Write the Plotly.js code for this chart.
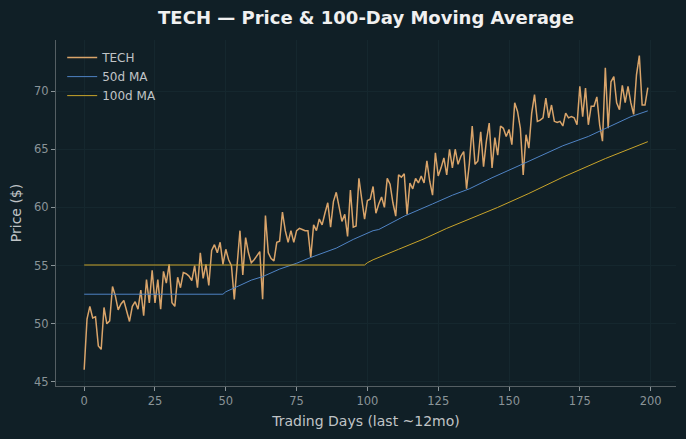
<!DOCTYPE html>
<html>
<head>
<meta charset="utf-8">
<script src="https://cdn.plot.ly/plotly-3.0.1.min.js"></script>
<style>html,body{margin:0;padding:0;background:#101f26;}#chart{width:686px;height:439px;}</style>
</head>
<body>
<div id="chart"></div>
<script>
// TECH daily closing price (day index 0..199)
const techPrice = [
46.05,50.4,51.5,50.5,50.6,48.1,47.8,51.4,50.0,50.25,
53.2,52.4,51.2,51.7,52.0,51.0,50.2,51.5,51.9,51.25,
52.9,50.7,53.8,51.8,54.6,51.8,53.8,51.25,54.5,53.5,
55.1,51.8,51.5,54.0,53.1,54.4,54.3,54.1,53.7,55.0,
53.1,56.1,53.9,55.1,53.3,56.3,56.8,56.1,57.0,55.1,
56.4,55.5,55.0,52.1,55.5,58.0,54.2,57.4,56.1,55.25,
55.5,55.8,56.2,52.1,59.3,56.1,55.6,55.4,57.0,57.1,
59.6,58.0,57.0,58.0,57.0,58.0,58.2,58.1,58.0,58.0,
55.7,58.5,58.0,59.0,58.5,59.5,60.4,58.3,60.5,61.3,
60.1,58.8,59.4,57.5,61.5,58.3,58.4,62.5,60.7,59.0,
60.6,60.7,61.8,59.5,60.3,60.9,60.0,62.5,62.0,60.4,
59.25,62.8,62.6,62.9,59.4,62.1,61.6,62.5,62.1,62.7,
62.1,64.0,62.25,61.05,64.7,62.7,63.4,64.25,62.8,65.0,
63.4,65.0,63.7,64.4,64.8,61.6,63.8,67.0,63.7,64.0,
66.5,63.5,65.7,67.25,63.4,66.0,64.5,67.0,66.8,66.1,
66.7,65.4,69.0,68.25,66.8,62.8,66.25,65.1,68.1,69.7,
67.4,67.5,67.7,69.4,67.7,68.8,67.4,67.3,67.4,67.0,
68.1,67.7,67.8,67.7,67.1,70.4,67.8,70.25,67.1,68.7,
68.7,69.5,67.1,65.7,72.0,66.8,70.8,71.25,69.0,68.4,
70.5,69.0,70.4,69.0,68.0,71.4,73.05,68.8,68.8,70.3
];

// 50-day moving average at sample days
const ma50Days = [0,49,50,51,55,59,63,69,75,80,89,95,102,104,113,123,130,136,144,155,162,169,178,184,193,199];
const ma50Vals = [52.54,52.54,52.75,52.85,53.3,53.75,54.05,54.7,55.2,55.7,56.5,57.25,58.0,58.1,59.25,60.3,61.05,61.6,62.55,63.75,64.5,65.3,66.1,66.8,67.8,68.3];

// 100-day moving average at sample days
const ma100Days = [0,99,100,102,111,120,128,136,146,157,169,184,199];
const ma100Vals = [55.05,55.05,55.25,55.5,56.4,57.3,58.2,59.0,60.0,61.2,62.6,64.2,65.65];

const seriesNames = ['TECH','50d MA','100d MA'];
const xTicks = [0,25,50,75,100,125,150,175,200];
const yTicks = [45,50,55,60,65,70];

const font = 'DejaVu Sans, Verdana, sans-serif';
const traces = [
  {y: techPrice, type:'scatter', mode:'lines', name: seriesNames[0],
   line:{color:'#d9a46a', width:1.5}},
  {x: ma50Days, y: ma50Vals, type:'scatter', mode:'lines', name: seriesNames[1],
   line:{color:'#4f83c4', width:1}},
  {x: ma100Days, y: ma100Vals, type:'scatter', mode:'lines', name: seriesNames[2],
   line:{color:'#c8a42a', width:1}}
];

const layout = {
  width:686, height:439,
  margin:{l:56, r:10, t:40, b:53},
  paper_bgcolor:'#101f26', plot_bgcolor:'#101f26',
  font:{family:font, color:'#c0c4c6'},
  title:{text:'<b>TECH — Price & 100-Day Moving Average</b>',
    font:{family:font, size:18, color:'#f0f0f0'},
    x:0.5, xref:'paper', xanchor:'center', y:0.959, yref:'container', yanchor:'middle'},
  showlegend:true,
  legend:{x:0.01, y:0.991, xanchor:'left', yanchor:'top', bgcolor:'rgba(0,0,0,0)',
    font:{family:font, size:12, color:'#c0c4c6'}, tracegroupgap:0},
  xaxis:{range:[-9.95,208.95], tickvals:xTicks, ticks:'outside', ticklen:4, tickwidth:1,
    tickcolor:'#8a9498', showline:true, linecolor:'#555f63', linewidth:1,
    showgrid:true, gridcolor:'#15272e', gridwidth:1, zeroline:false,
    tickfont:{family:font, size:11.5, color:'#8a9498'},
    title:{text:'Trading Days (last ~12mo)', font:{family:font, size:14, color:'#c0c4c6'}, standoff:9}},
  yaxis:{range:[44.65,74.39], tickvals:yTicks, ticks:'outside', ticklen:4, tickwidth:1,
    tickcolor:'#8a9498', showline:true, linecolor:'#555f63', linewidth:1,
    showgrid:true, gridcolor:'#15272e', gridwidth:1, zeroline:false,
    tickfont:{family:font, size:11.5, color:'#8a9498'},
    title:{text:'Price ($)', font:{family:font, size:14, color:'#c0c4c6'}, standoff:9}}
};

Plotly.newPlot('chart', traces, layout, {displayModeBar:false, staticPlot:true});
</script>
</body>
</html>
